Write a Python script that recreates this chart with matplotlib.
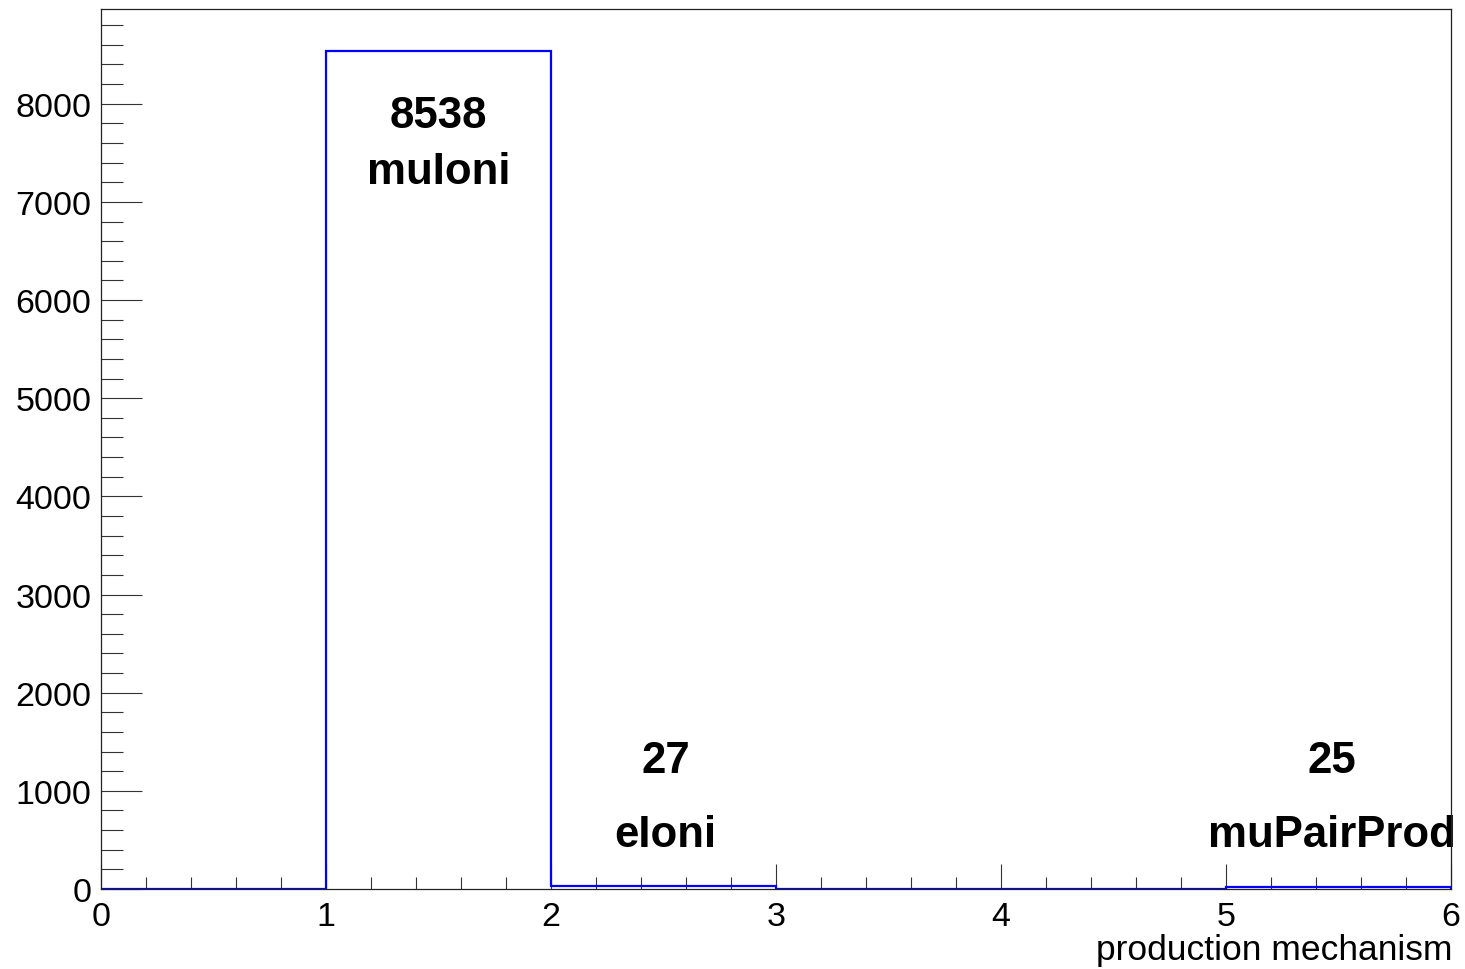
import numpy as np
import matplotlib
matplotlib.use("Agg")
import matplotlib.pyplot as plt
from matplotlib.ticker import MultipleLocator

plt.rcParams['font.family'] = ['Liberation Sans', 'DejaVu Sans']

# histogram: one bin per production mechanism
bin_edges = [0, 1, 2, 3, 4, 5, 6]
counts = [0, 8538, 27, 0, 0, 25]

# labels written on the plot (count + process name)
label_names = ["muIoni", "eIoni", "muPairProd"]
label_counts = [8538, 27, 25]
label_x = [1.5, 2.51, 5.47]
label_y_count = [7766, 1191, 1191]
label_y_name = [7196, 438, 438]

fig = plt.figure(figsize=(14.65, 9.7), dpi=100)
ax = fig.add_axes([101 / 1465, 80 / 970, 1350 / 1465, 880 / 970])

ax.stairs(counts, bin_edges, color='blue', linewidth=1.6, zorder=2)

ax.set_xlim(0, 6)
ax.set_ylim(0, max(counts) * 1.05)

ax.xaxis.set_major_locator(MultipleLocator(1))
ax.xaxis.set_minor_locator(MultipleLocator(0.2))
ax.yaxis.set_major_locator(MultipleLocator(1000))
ax.yaxis.set_minor_locator(MultipleLocator(200))

ax.tick_params(axis='both', which='both', direction='in', top=False, right=False,
               color='#333333', width=0.8, labelsize=24.5)
ax.tick_params(axis='x', which='major', length=18, pad=9)
ax.tick_params(axis='x', which='minor', length=8.6)
ax.tick_params(axis='y', which='major', length=29.5, pad=7)
ax.tick_params(axis='y', which='minor', length=15.8)

for sp in ax.spines.values():
    sp.set_color('#222222')
    sp.set_linewidth(0.9)
    sp.set_zorder(4)

for name, c, x, yc, yn in zip(label_names, label_counts, label_x, label_y_count, label_y_name):
    ax.text(x, yc, str(c), ha='center', va='baseline', fontsize=31.5,
            fontweight='bold', clip_on=False, zorder=3)
    ax.text(x, yn, name, ha='center', va='baseline', fontsize=31.5,
            fontweight='bold', clip_on=False, zorder=3)

fig.text(1452 / 1465, 10 / 970, "production mechanism", ha='right', va='baseline',
         fontsize=25.5)

fig.savefig("out.png", dpi=100)
